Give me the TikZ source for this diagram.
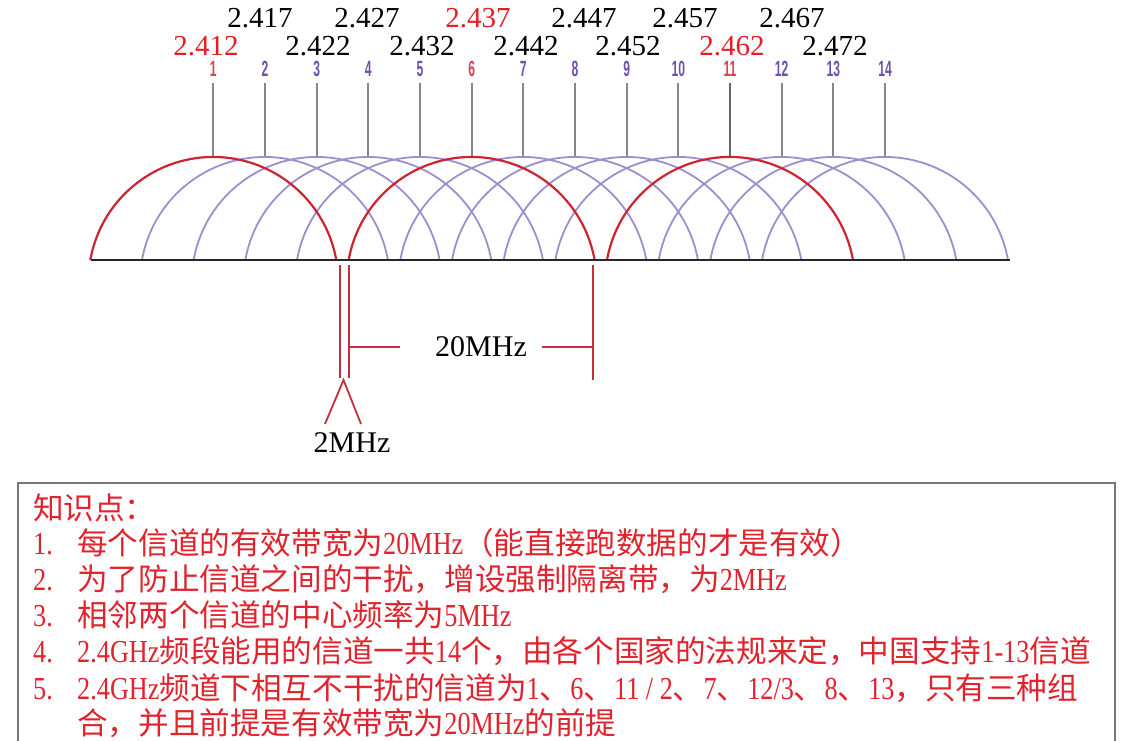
\documentclass[tikz,border=0pt]{standalone}
\usepackage{graphicx}
\usepackage{fontspec}
\setmainfont{Liberation Serif}
\newfontfamily\cjk{Noto Sans CJK SC}
\newfontfamily\chnum{Liberation Sans}
\definecolor{arcred}{RGB}{205,35,50}
\definecolor{arcpur}{RGB}{158,142,206}
\definecolor{tickgray}{RGB}{135,135,135}
\definecolor{numpur}{RGB}{110,80,175}
\definecolor{numred}{RGB}{215,65,80}
\definecolor{freqred}{RGB}{230,30,35}
\definecolor{txtred}{RGB}{225,35,45}
\definecolor{dimred}{RGB}{200,45,60}
\definecolor{boxgray}{RGB}{120,120,120}
\newcommand\lat[1]{\scalebox{0.82}[1]{\fontsize{32}{32}\selectfont\rmfamily #1}}
\newcommand\chn[1]{\scalebox{0.55}[1]{\fontsize{22}{22}\selectfont\chnum\bfseries #1}}
\begin{document}
\begin{tikzpicture}[x=1pt,y=-1pt,
  freq/.style={font=\fontsize{29}{29}\selectfont, inner sep=0, anchor=center, text=black},
  chlab/.style={inner sep=0, text=numpur},
  ticklin/.style={draw=tickgray, line width=1.8pt},
  purarc/.style={draw=arcpur, line width=1.8pt},
  redarc/.style={draw=arcred, line width=2.2pt},
  dimline/.style={draw=dimred, line width=1.5pt},
  dimtext/.style={font=\fontsize{30}{30}\selectfont, inner sep=0, text=black},
  note/.style={inner sep=0, anchor=base west, text=txtred, font=\fontsize{30.6}{36}\selectfont\cjk},
  notenum/.style={inner sep=0, anchor=base west, text=txtred}]
\useasboundingbox (0,0) rectangle (1125,741);
\fill[white] (0,0) rectangle (1125,741);

% ticks, channel numbers
\foreach \i in {1,...,14}{
  \pgfmathsetmacro\cx{213.3+(\i-1)*51.67}
  \coordinate (tt\i) at (\cx,83);
  \coordinate (tb\i) at (\cx,157);
  \draw[ticklin] (tt\i) -- (tb\i);
}
\foreach \i in {2,3,4,5,7,8,9,10,12,13,14}{
  \pgfmathsetmacro\cx{213.3+(\i-1)*51.67}
  \node[chlab] (ch\i) at (\cx,69) {\chn{\i}};
}
\foreach \i in {1,6,11}{
  \pgfmathsetmacro\cx{213.3+(\i-1)*51.67}
  \node[chlab,text=numred] (ch\i) at (\cx,69) {\chn{\i}};
}
\draw[ticklin,draw=black!60] (tt11) -- (tb11);

% purple arcs
\foreach \i in {2,3,4,5,7,8,9,10,12,13,14}{
  \pgfmathsetmacro\cx{213.3+(\i-1)*51.67}
  \draw[purarc] (\cx-122.97,260) arc[start angle=169.91, end angle=10.09, radius=124.9pt];
}
% red arcs
\foreach \i in {1,6,11}{
  \pgfmathsetmacro\cx{213.3+(\i-1)*51.67}
  \draw[redarc] (\cx-122.97,260) arc[start angle=169.91, end angle=10.09, radius=124.9pt];
}
% baseline
\coordinate (bl) at (91,260);
\coordinate (br) at (1010,260);
\draw[line width=2.6pt, black!85] (bl) -- (br);

% frequency labels
\node[freq] (f2417) at (260,18) {2.417};
\node[freq] (f2427) at (367,18) {2.427};
\node[freq,text=freqred] (f2437) at (478,18) {2.437};
\node[freq] (f2447) at (584,18) {2.447};
\node[freq] (f2457) at (685,18) {2.457};
\node[freq] (f2467) at (792,18) {2.467};
\node[freq,text=freqred] (f2412) at (206,46) {2.412};
\node[freq] (f2422) at (318,46) {2.422};
\node[freq] (f2432) at (422,46) {2.432};
\node[freq] (f2442) at (526,46) {2.442};
\node[freq] (f2452) at (628,46) {2.452};
\node[freq,text=freqred] (f2462) at (732,46) {2.462};
\node[freq] (f2472) at (835,46) {2.472};

% 2MHz / 20MHz dimension marks
\coordinate (la) at (340,265); \coordinate (lb) at (340,378);
\coordinate (ra) at (349,265); \coordinate (rb) at (349,378);
\coordinate (ea) at (593,265); \coordinate (eb) at (593,380);
\coordinate (apex) at (343.5,380);
\coordinate (legl) at (325,424);
\coordinate (legr) at (361,424);
\draw[dimline,line width=1.8pt] (la) -- (lb);
\draw[dimline,line width=1.8pt] (ra) -- (rb);
\draw[dimline] (ea) -- (eb);
\draw[dimline,line width=1.8pt] (legl) -- (apex) -- (legr);
\node[dimtext] (d20) at (481,347) {20MHz};
\node[dimtext] (d2) at (352,443) {2MHz};
\coordinate (h1a) at (349,347); \coordinate (h1b) at (400,347);
\coordinate (h2a) at (542,347); \coordinate (h2b) at (593,347);
\draw[dimline] (h1a) -- (h1b);
\draw[dimline] (h2a) -- (h2b);

% knowledge box
\draw[boxgray, line width=1.8pt] (18,746) -- (18,483) -- (1115,483) -- (1115,746);
\node[note] (k0) at (33,519) {知识点：};
\node[notenum] (n1) at (33,554) {\lat{1.}};
\node[note] (k1) at (77,554) {每个信道的有效带宽为\lat{20MHz}（能直接跑数据的才是有效）};
\node[notenum] (n2) at (33,590) {\lat{2.}};
\node[note] (k2) at (77,590) {为了防止信道之间的干扰，增设强制隔离带，为\lat{2MHz}};
\node[notenum] (n3) at (33,626) {\lat{3.}};
\node[note] (k3) at (77,626) {相邻两个信道的中心频率为\lat{5MHz}};
\node[notenum] (n4) at (33,662) {\lat{4.}};
\node[note] (k4) at (77,662) {\lat{2.4GHz}频段能用的信道一共\lat{14}个，由各个国家的法规来定，中国支持\lat{1-13}信道};
\node[notenum] (n5) at (33,699) {\lat{5.}};
\node[note] (k5) at (77,699) {\lat{2.4GHz}频道下相互不干扰的信道为\lat{1}、\lat{6}、\lat{11 / 2}、\lat{7}、\lat{12/3}、\lat{8}、\lat{13}，只有三种组};
\node[note] (k6) at (77,734) {合，并且前提是有效带宽为\lat{20MHz}的前提};
\end{tikzpicture}
\end{document}
